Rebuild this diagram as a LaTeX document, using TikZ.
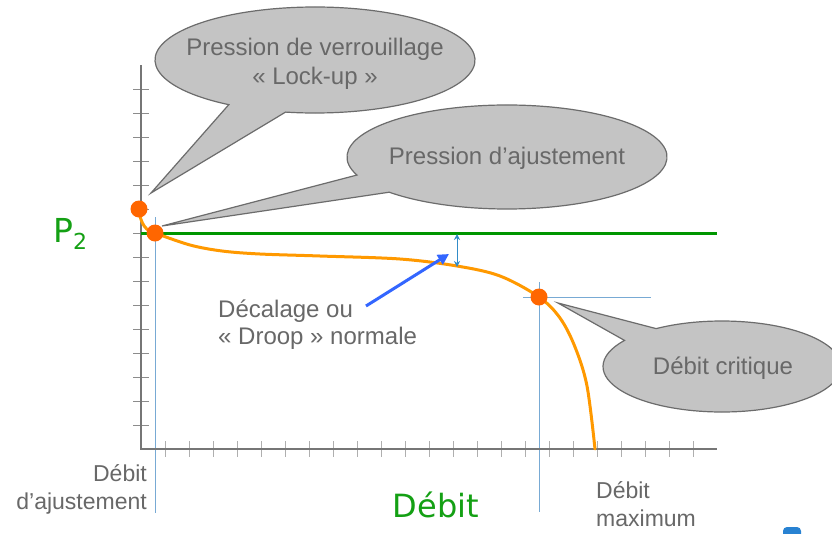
\documentclass[tikz,border=0pt]{standalone}
\usepackage{fontspec}
\setmainfont{Liberation Sans}
\newfontfamily\dvfont{DejaVu Sans}
\usetikzlibrary{arrows.meta,calc}
\definecolor{txtgray}{RGB}{104,104,104}
\definecolor{axgray}{RGB}{118,118,118}
\definecolor{tickgray}{RGB}{175,175,175}
\definecolor{ytickgray}{RGB}{140,140,140}
\definecolor{pgreen}{RGB}{0,150,0}
\definecolor{tgreen}{RGB}{20,160,20}
\definecolor{curveorange}{RGB}{255,153,0}
\definecolor{dotorange}{RGB}{255,102,0}
\definecolor{thinblue}{RGB}{120,170,212}
\definecolor{darrblue}{RGB}{50,140,200}
\definecolor{arrblue}{RGB}{51,102,255}
\definecolor{calfill}{RGB}{196,196,196}
\definecolor{caldraw}{RGB}{108,108,108}
\definecolor{iconblue}{RGB}{40,130,210}
\tikzset{
  axisline/.style={draw=axgray,line width=2pt},
  xtickline/.style={draw=tickgray,line width=1pt},
  ytickline/.style={draw=ytickgray,line width=1pt},
  guide/.style={draw=thinblue,line width=1pt},
  p2line/.style={draw=pgreen,line width=3pt},
  curve/.style={draw=curveorange,line width=3pt},
  dot/.style={fill=dotorange},
  callout/.style={fill=calfill,draw=caldraw,line width=1.2pt,line join=miter},
  caltext/.style={text=txtgray,font=\fontsize{24}{29}\selectfont,align=center,inner sep=0pt},
  lbl/.style={text=txtgray,font=\fontsize{23}{28}\selectfont,inner sep=0pt},
  darr/.style={draw=darrblue,line width=1pt,{Stealth[length=6pt,width=6pt]}-{Stealth[length=6pt,width=6pt]}},
  barr/.style={draw=arrblue,line width=3pt,-{Triangle[length=11pt,width=11pt]}},
}
\begin{document}
\begin{tikzpicture}[x=1pt,y=-1pt]
\useasboundingbox (0,0) rectangle (832,533);
\clip (0,0) rectangle (832,533);
\fill[white] (0,0) rectangle (832,533);

% guide lines
\coordinate (g1t) at (155,217);
\coordinate (g1b) at (155,513);
\coordinate (g2t) at (539,282);
\coordinate (g2b) at (539,512);
\coordinate (h2l) at (523,297);
\coordinate (h2r) at (651,297);
\draw[guide] (g1t) -- (g1b);
\draw[guide] (g2t) -- (g2b);
\draw[guide] (h2l) -- (h2r);

% axes
\coordinate (o) at (141,449);
\coordinate (ytop) at (141,65);
\coordinate (xend) at (717,449);
\foreach \y in {89,113,...,425} \draw[ytickline] (133,\y) -- (149,\y);
\foreach \x in {165,189,...,693} \draw[xtickline] (\x,441) -- (\x,457);
\draw[axisline] (ytop) -- (o) -- (xend);

% P2 line
\coordinate (p2a) at (141,233);
\coordinate (p2b) at (717,233);
\draw[p2line] (p2a) -- (p2b);

% curve
\coordinate (d1) at (139,209);
\coordinate (d2) at (155,233);
\coordinate (d3) at (539,297);
\draw[curve] (d1) .. controls (140,224) and (147,232) .. (d2);
\draw[curve,line cap=round] plot[smooth,tension=0.55] coordinates {(155,233) (190,245) (222,251) (260,254) (320,256) (400,259) (457,266) (500,276) (539,297) (560,318) (575,347) (587,386) (595,449)};

% droop arrows
\coordinate (da) at (457,234);
\coordinate (db) at (457,267);
\draw[darr] (db) -- (da);
\coordinate (ba) at (366,306);
\coordinate (bb) at (449,254);
\draw[barr] (ba) -- (bb);

% dots
\fill[dot] (d1) circle (8.5);
\fill[dot] (d2) circle (8.5);
\fill[dot] (d3) circle (8.5);

% callout 1
\coordinate (c1) at (315,60);
\coordinate (t1) at (151,193);
\draw[callout] (t1) -- ([shift={(122.6:160 and 53)}]c1) arc[start angle=122.6,end angle=460.6,x radius=160,y radius=53] -- cycle;
\node[caltext] (n1) at (315,64) {Pression de verrouillage\\« Lock-up »};

% callout 2
\coordinate (c2) at (507,157);
\coordinate (t2) at (162,226);
\draw[callout] (t2) -- ([shift={(159.7:160 and 52)}]c2) arc[start angle=159.7,end angle=497.4,x radius=160,y radius=52] -- cycle;
\node[caltext] (n2) at (507,158) {Pression d’ajustement};

% callout 3
\coordinate (c3) at (722,366.5);
\coordinate (t3) at (558,303);
\draw[callout] (t3) -- ([shift={(236.4:119 and 45.5)}]c3) arc[start angle=236.4,end angle=575,x radius=119,y radius=45.5] -- cycle;
\node[caltext] (n3) at (723,368) {Débit critique};

% labels
\node[lbl,align=left,anchor=north west,font=\fontsize{24}{27}\selectfont] (dec) at (218,300) {Décalage ou\\« Droop » normale};
\node[lbl,align=right,anchor=north east] (dadj) at (147,464) {Débit\\d’ajustement};
\node[lbl,align=left,anchor=north west] (dmax) at (596,481) {Débit\\maximum};
\node[text=tgreen,font=\dvfont\fontsize{32}{36}\selectfont,inner sep=0pt] (xl) at (436,505) {Débit};
\node[text=tgreen,font=\dvfont\fontsize{33}{36}\selectfont,inner sep=0pt,anchor=base west] (p2) at (53,242) {P\raisebox{-7pt}{\fontsize{22}{24}\selectfont 2}};

% icon fragment
\fill[iconblue,rounded corners=4pt] (783,527) rectangle (801,545);
\end{tikzpicture}
\end{document}
